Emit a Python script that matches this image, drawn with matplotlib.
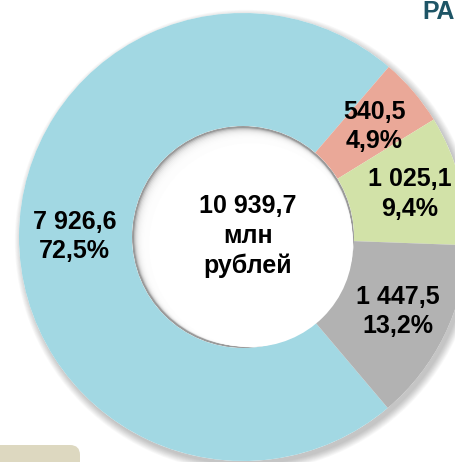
import numpy as np
import matplotlib
matplotlib.use('Agg')
import matplotlib.pyplot as plt
from matplotlib.patches import Circle, FancyBboxPatch

# data (млн рублей)
values = [7926.6, 540.5, 1025.1, 1447.5]
colors = ['#A2D8E3', '#EAA898', '#D2E2A8', '#B2B2B2']
center_units = 'млн\nрублей'
title_part = 'РА'

FONT = ['Liberation Sans Narrow', 'Liberation Sans', 'DejaVu Sans']


def fmt_num(v, nd=1):
    '''format a number the russian way : space thousands, comma decimal'''
    s = '{:,.{}f}'.format(v, nd)
    return s.replace(',', ' ').replace('.', ',')


W, H = 456, 462
fig = plt.figure(figsize=(W / 100, H / 100), dpi=100)
ax = fig.add_axes([0, 0, 1, 1])

cx, cy = 243, H - 237
r_out, r_in = 224, 111

# soft outer shadow (bottom right)
for i in range(10):
    ax.add_patch(Circle((cx + 3, cy - 4), r_out + i * 0.8, color='k',
                        alpha=0.025, lw=0, zorder=0))
ax.add_patch(Circle((cx, cy), r_out, color='white', lw=0, zorder=0.5))

total = sum(values)
wedges, _ = ax.pie(values, colors=colors, startangle=310.25, counterclock=False,
                   center=(cx, cy), radius=r_out, frame=True,
                   wedgeprops=dict(width=r_out - r_in, linewidth=0))
for w in wedges:
    w.set_zorder(1)

# inner shadow in the hole (top left)
hole = Circle((cx, cy), r_in, transform=ax.transData)
grey = Circle((cx, cy), r_in, color='#9a9a9a', lw=0, zorder=2)
grey.set_clip_path(hole)
ax.add_patch(grey)
for i in range(12):
    c = Circle((cx + 0.6 * i, cy - 0.6 * i), r_in - 2 - 0.5 * i, color='white',
               alpha=0.35, lw=0, zorder=3)
    c.set_clip_path(hole)
    ax.add_patch(c)
ax.add_patch(Circle((cx + 8, cy - 8), r_in - 9, color='white', lw=0, zorder=4))

# labels inside each slice
for w, v in zip(wedges, values):
    ang = np.deg2rad((w.theta1 + w.theta2) / 2)
    rr = 0.76 * r_out
    x = cx + rr * np.cos(ang)
    y = cy + rr * np.sin(ang)
    txt = fmt_num(v) + '\n' + fmt_num(100 * v / total) + '%'
    ax.text(x + 2, y, txt, ha='center', va='center', fontsize=18,
            fontweight='bold', family=FONT, linespacing=1.3, zorder=5)

ax.text(cx + 5, cy + 1, fmt_num(total) + '\n' + center_units, ha='center',
        va='center', fontsize=18, fontweight='bold', family=FONT,
        linespacing=1.3, zorder=5)

# bits of the page around the chart
ax.text(455, H - 12, title_part, ha='right', va='center', fontsize=18,
        fontweight='bold', color='#1E5566', family=FONT)
ax.add_patch(FancyBboxPatch((-20, -20), 100, 37, boxstyle='round,pad=0,rounding_size=10',
                            color='#DDD8C0', lw=0, zorder=0.2))

ax.set_xlim(0, W)
ax.set_ylim(0, H)
ax.set_aspect('auto')
ax.axis('off')

fig.savefig('out.png', dpi=100)
